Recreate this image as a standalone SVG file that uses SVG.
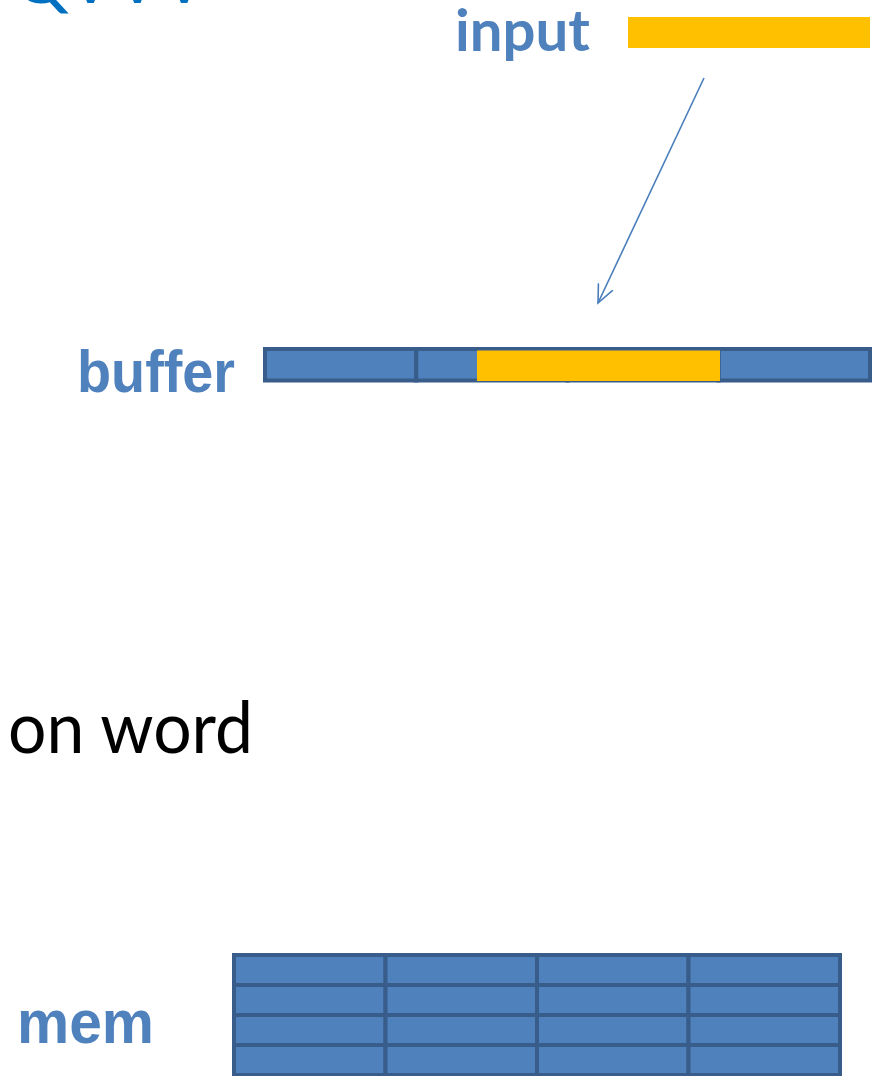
<svg xmlns="http://www.w3.org/2000/svg" width="879" height="1076" viewBox="0 0 879 1076">
<style>
.cell{fill:#4F81BD;stroke:#385D8A;stroke-width:4}
.hl{fill:#FFC000}
.lbl{fill:#4F81BD;font-weight:bold}
</style>
<defs>
<marker id="arr" viewBox="0 0 20 20" refX="18" refY="10" markerWidth="20" markerHeight="20" markerUnits="userSpaceOnUse" orient="auto">
<path d="M0,2 L18,10 L0,18" fill="none" stroke="#4A7EBB" stroke-width="1.6"/>
</marker>
</defs>
<rect width="879" height="1076" fill="#fff"/>
<g id="title">
<text x="12" y="3" font-family="Lato, 'Liberation Sans', sans-serif" font-size="72" fill="#0070C0" letter-spacing="-2">QVVV</text>
</g>
<g id="input">
<text class="lbl" x="455" y="51" font-family="Lato, 'Liberation Sans', sans-serif" font-size="58" textLength="135" lengthAdjust="spacingAndGlyphs">input</text>
<rect class="hl" x="628" y="17" width="242" height="31"/>
</g>
<g id="buffer">
<text class="lbl" x="77" y="392" font-family="'Liberation Sans', Arial, sans-serif" font-size="59" textLength="158" lengthAdjust="spacingAndGlyphs">buffer</text>
<rect class="cell" x="265" y="349" width="151.25" height="31.5"/>
<rect class="cell" x="416.25" y="349" width="151.25" height="31.5"/>
<rect class="cell" x="567.5" y="349" width="151.25" height="31.5"/>
<rect class="cell" x="718.75" y="349" width="151.25" height="31.5"/>
<rect class="hl" x="477" y="350.5" width="243" height="30.5"/>
</g>
<g id="note">
<text x="8" y="753" font-family="Lato, 'Liberation Sans', sans-serif" font-size="72" fill="#000" textLength="245" lengthAdjust="spacingAndGlyphs">on word</text>
</g>
<g id="mem">
<text class="lbl" x="17" y="1043" font-family="'Liberation Sans', Arial, sans-serif" font-size="61" textLength="137" lengthAdjust="spacingAndGlyphs">mem</text>
<g>
<rect class="cell" x="234" y="955" width="151.5" height="30"/>
<rect class="cell" x="385.5" y="955" width="151.5" height="30"/>
<rect class="cell" x="537" y="955" width="151.5" height="30"/>
<rect class="cell" x="688.5" y="955" width="151.5" height="30"/>
<rect class="cell" x="234" y="985" width="151.5" height="30"/>
<rect class="cell" x="385.5" y="985" width="151.5" height="30"/>
<rect class="cell" x="537" y="985" width="151.5" height="30"/>
<rect class="cell" x="688.5" y="985" width="151.5" height="30"/>
<rect class="cell" x="234" y="1015" width="151.5" height="30"/>
<rect class="cell" x="385.5" y="1015" width="151.5" height="30"/>
<rect class="cell" x="537" y="1015" width="151.5" height="30"/>
<rect class="cell" x="688.5" y="1015" width="151.5" height="30"/>
<rect class="cell" x="234" y="1045" width="151.5" height="30"/>
<rect class="cell" x="385.5" y="1045" width="151.5" height="30"/>
<rect class="cell" x="537" y="1045" width="151.5" height="30"/>
<rect class="cell" x="688.5" y="1045" width="151.5" height="30"/>
</g>
</g>
<g id="connectors">
<line x1="704" y1="78" x2="598" y2="303" stroke="#4A7EBB" stroke-width="1.6" marker-end="url(#arr)"/>
</g>
</svg>
